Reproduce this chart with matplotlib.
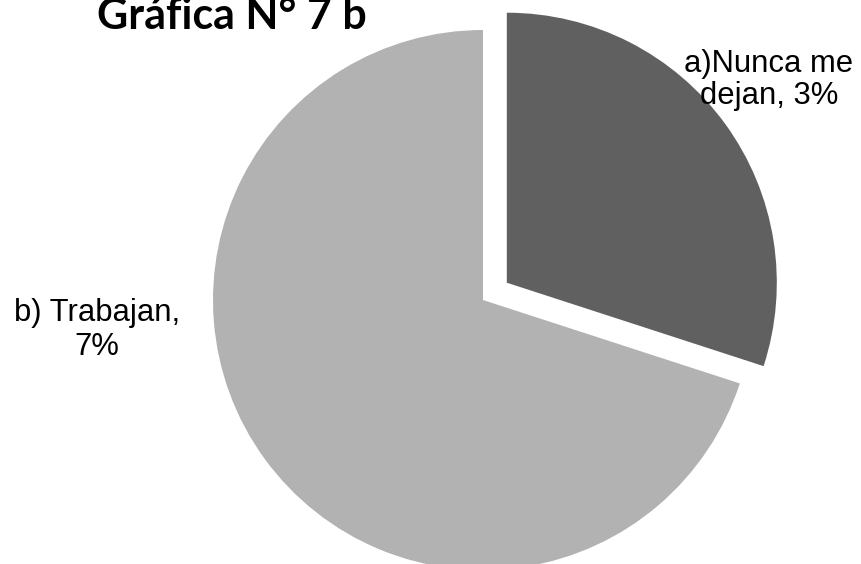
import matplotlib.pyplot as plt

# Data
labels = ['a)Nunca me\ndejan, 3%', 'b) Trabajan,\n7%']
values = [3, 7]
colors = ['#606060', '#b2b2b2']
explode = [0.109, 0]

W, H = 862, 564
fig = plt.figure(figsize=(W / 100, H / 100), dpi=100)
ax = fig.add_axes([0, 0, 1, 1])

# pie in pixel coordinates (y measured upward)
cx, cy, r = 483, H - 300, 270
ax.pie(values, colors=colors, explode=[e * r for e in explode], startangle=90,
       counterclock=False, center=(cx, cy), radius=r, frame=True,
       wedgeprops=dict(linewidth=0))
ax.set_xlim(0, W)
ax.set_ylim(0, H)
ax.set_aspect('equal')
ax.axis('off')

font = 'Liberation Sans'
ax.text(769, H - 80, labels[0], ha='center', va='center', fontsize=22.3,
        family=font, linespacing=1.05)
ax.text(97, H - 330, labels[1], ha='center', va='center', fontsize=22.3,
        family=font, linespacing=1.2)

fig.text(97 / W, 1 - 29 / H, 'Gráfica N° 7 b', ha='left', va='baseline',
         fontsize=31, fontweight='bold', family='Lato')

fig.savefig('out.png', dpi=100)
